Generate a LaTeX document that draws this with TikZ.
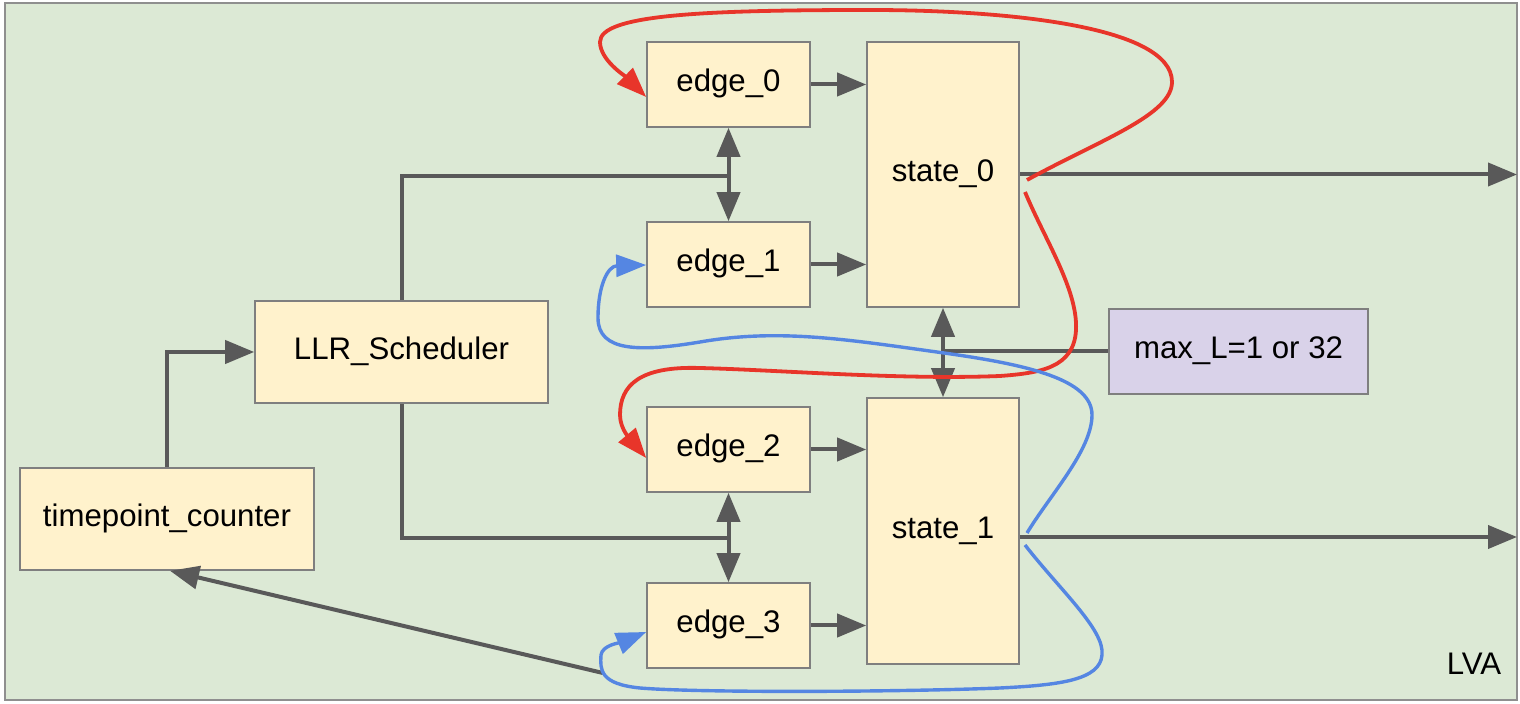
\documentclass[tikz,border=0pt]{standalone}
\usepackage{fontspec}
\setmainfont{Liberation Sans}
\usetikzlibrary{arrows.meta}
\definecolor{bg}{HTML}{DCE9D5}
\definecolor{frameline}{HTML}{8F8F8F}
\definecolor{boxfill}{HTML}{FFF2CC}
\definecolor{purplefill}{HTML}{D9D2E9}
\definecolor{boxline}{HTML}{7F7F7F}
\definecolor{darkg}{HTML}{595959}
\definecolor{redc}{HTML}{E8352A}
\definecolor{bluec}{HTML}{5586E2}
\tikzset{
  box/.style={draw=boxline, fill=boxfill, line width=0.8pt, inner sep=0pt,
    text height=0.716em, text depth=0pt},
  pbox/.style={box, fill=purplefill},
  ghead/.tip={Triangle[length=14.5pt,width=11.5pt]},
  chead/.tip={Triangle[length=15pt,width=11pt]},
  gline/.style={draw=darkg, line width=2pt},
  garrow/.style={gline, -ghead},
  gdouble/.style={gline, ghead-ghead},
  redcurve/.style={draw=redc, line width=1.9pt, -chead},
  bluecurve/.style={draw=bluec, line width=1.7pt, -chead},
}
\begin{document}
\begin{tikzpicture}[x=0.5pt,y=-0.5pt, font=\fontsize{15.6pt}{18pt}\selectfont]
\useasboundingbox (0,0) rectangle (1520,704);
\draw[fill=bg, draw=frameline, line width=0.8pt] (5,3) rectangle (1517,700);

% nodes
\node[box, minimum width=81.5pt, minimum height=42.5pt] (e0) at (728.5,84.5) {edge\_0};
\node[box, minimum width=81.5pt, minimum height=42.5pt] (e1) at (728.5,264.5) {edge\_1};
\node[box, minimum width=81.5pt, minimum height=42.5pt] (e2) at (728.5,449.5) {edge\_2};
\node[box, minimum width=81.5pt, minimum height=42.5pt] (e3) at (728.5,625.5) {edge\_3};
\node[box, minimum width=76pt, minimum height=132.5pt] (s0) at (943,174.5) {state\_0};
\node[box, minimum width=76pt, minimum height=133pt] (s1) at (943,531) {state\_1};
\node[box, minimum width=146.5pt, minimum height=51pt] (llr) at (401.5,352) {LLR\_Scheduler};
\node[box, minimum width=147pt, minimum height=51pt] (tc) at (167,519) {timepoint\_counter};
\node[pbox, minimum width=129.5pt, minimum height=42.5pt] (maxl) at (1238.5,351.5) {max\_L=1 or 32};
\node[text height=0.716em, text depth=0pt] (lva) at (1474,667) {LVA};

% coordinates
\coordinate (j0) at (728.5,176);
\coordinate (j1) at (728.5,538);
\coordinate (o0) at (1517,174.5);
\coordinate (o1) at (1517,537);
\coordinate (b3) at (603,673);

% gray connectors
\draw[garrow] (e0.east) -- (e0.east -| s0.west);
\draw[garrow] (e1.east) -- (e1.east -| s0.west);
\draw[garrow] (e2.east) -- (e2.east -| s1.west);
\draw[garrow] (e3.east) -- (e3.east -| s1.west);
\draw[gline] (llr.north) |- (j0);
\draw[gline] (llr.south) |- (j1);
\draw[gdouble] (e0.south) -- (e1.north);
\draw[gdouble] (e2.south) -- (e3.north);
\draw[gline] (maxl.west) -- (maxl.west -| s0.south);
\draw[gdouble] (s0.south) -- (s1.north);
\draw[garrow] (tc.north) |- (llr.west);
\draw[garrow] (s0.east) -- (o0);
\draw[garrow] (o1 -| s1.east) -- (o1);
\draw[garrow] (b3) -- ([xshift=1.5pt]tc.south);

% red curves
\draw[redcurve] (1027,180) .. controls (1100,140) and (1172,115) .. (1172,82)
  .. controls (1172,25) and (1000,10) .. (870,10)
  .. controls (700,10) and (600,15) .. (600,42)
  .. controls (600,60) and (625,76) .. (e0.west |- 0,97);
\draw[redcurve] (1025,192) .. controls (1045,240) and (1078,290) .. (1076,330)
  .. controls (1074,368) and (1040,373) .. (1000,376)
  .. controls (900,380) and (780,370) .. (700,368)
  .. controls (640,366) and (620,385) .. (620,415)
  .. controls (620,430) and (632,441) .. (e2.west |- 0,458);

% blue curves
\draw[bluecurve] (1027,533) .. controls (1050,495) and (1092,450) .. (1092,415)
  .. controls (1092,380) and (1030,365) .. (944,353)
  .. controls (850,340) and (780,328) .. (700,342)
  .. controls (640,352) and (598,352) .. (598,318)
  .. controls (598,285) and (608,266) .. (e1.west |- 0,265);
\draw[bluecurve] (1025,545) .. controls (1060,590) and (1105,630) .. (1102,655)
  .. controls (1100,680) and (1060,685) .. (1000,688)
  .. controls (900,692) and (700,693) .. (640,688)
  .. controls (600,684) and (600,670) .. (601,655)
  .. controls (602,645) and (622,642) .. (e3.west |- 0,632);
\end{tikzpicture}
\end{document}
